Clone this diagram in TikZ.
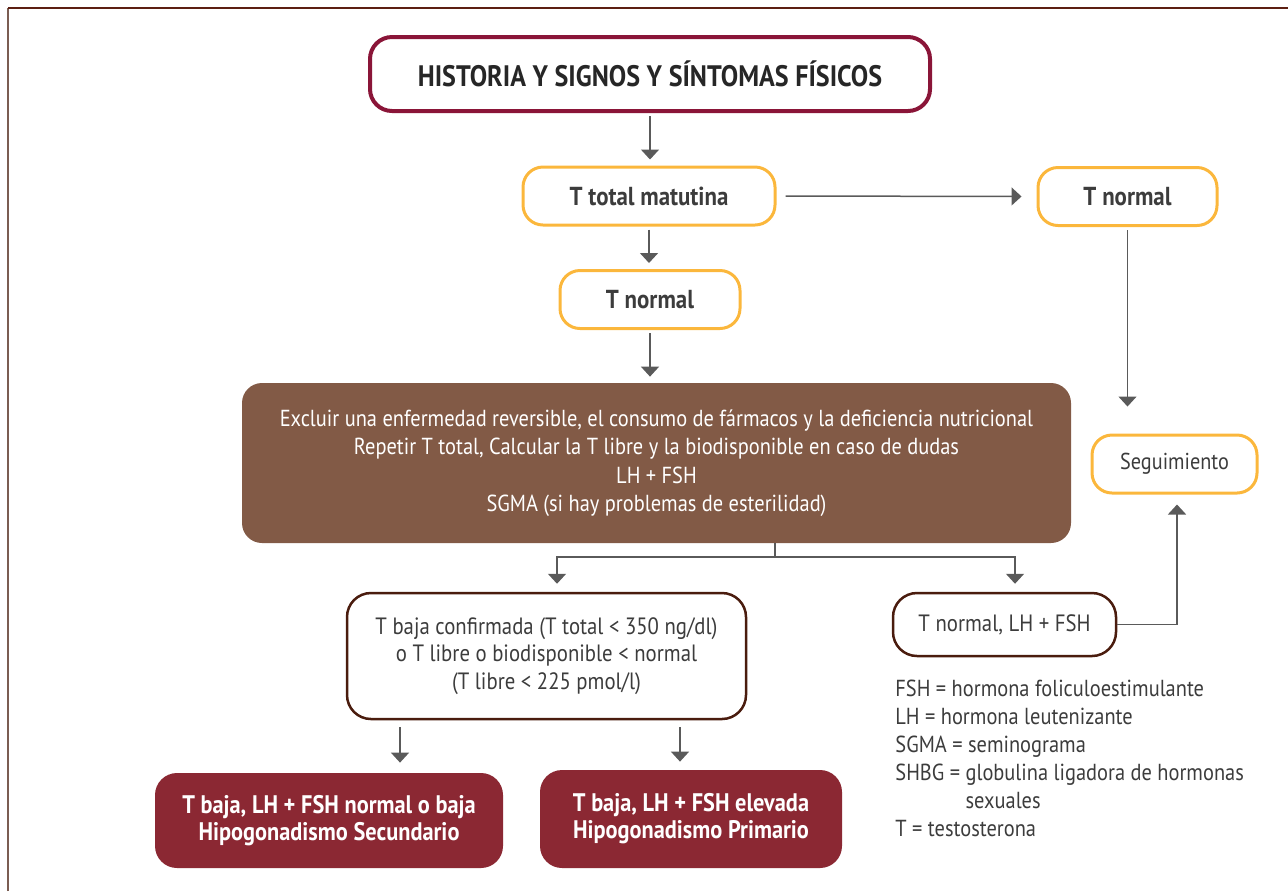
\documentclass[tikz,border=0pt]{standalone}
\usepackage{fontspec}
\setmainfont{PT Sans}[FakeStretch=0.88]
\usetikzlibrary{arrows.meta}
\definecolor{titlered}{HTML}{8A1538}
\definecolor{orangeline}{HTML}{FBB73C}
\definecolor{brownfill}{HTML}{825A46}
\definecolor{darkbrown}{HTML}{4A1C0E}
\definecolor{wine}{HTML}{8B2833}
\definecolor{arrowgray}{HTML}{5A5A5A}
\definecolor{textgray}{HTML}{3C3C3C}
\definecolor{frametop}{HTML}{5C1F12}
\definecolor{frameleft}{HTML}{7B5D52}

\begin{document}
\begin{tikzpicture}
[x=0.5pt,y=-0.5pt,
  titlebox/.style={shape=rectangle,rounded corners=11pt,draw=titlered,line width=2pt,
    minimum width=280pt,minimum height=37pt,text=black!85,
    font=\fontsize{14.8}{17}\selectfont\bfseries},%
  orangebox/.style={shape=rectangle,rounded corners=10pt,draw=orangeline,line width=1.5pt,
    minimum height=29pt,text=textgray,font=\fontsize{13}{16}\selectfont\bfseries},%
  brownbox/.style={shape=rectangle,rounded corners=10pt,fill=brownfill,text=white,
    align=center,font=\fontsize{11.6}{14.25}\selectfont},%
  outlinebox/.style={shape=rectangle,rounded corners=12pt,draw=darkbrown,line width=1.25pt,
    text=textgray,align=center,font=\fontsize{11.8}{13.75}\selectfont},%
  redbox/.style={shape=rectangle,rounded corners=11pt,fill=wine,text=white,
    align=center,font=\fontsize{12.7}{13.5}\selectfont\bfseries},%
  arrowline/.style={-{Triangle[width=9pt,length=5pt]},line width=0.75pt,draw=arrowgray,
    shorten <=1.5pt,shorten >=3pt}]
\useasboundingbox (0,0) rectangle (1288,891);
%% frame
\draw[frameleft,line width=1pt] (8,891) -- (8,8);
\draw[frametop,line width=1pt] (8,8) -- (1288,8);
%% nodes or boxes
\node (title) at (650,74) [titlebox] {HISTORIA Y SIGNOS Y SÍNTOMAS FÍSICOS};
\foreach \nodename/\x/\y/\w/\txt in {tmat/649/196/126/T total matutina,
    tnormA/1127.5/196.5/89.5/T normal, tnormB/650/299.5/90/T normal} {
  \node (\nodename) at (\x,\y) [orangebox,minimum width=\w pt] {\txt};
}
\node (seguim) at (1174.5,464) [orangebox,minimum width=82.5pt,font=\fontsize{11.5}{14}\selectfont] {Seguimiento};
\node (brown) at (656.5,463) [brownbox,minimum width=414.5pt,minimum height=80pt]
  {Excluir una enfermedad reversible, el consumo de fármacos y la deficiencia nutricional\\
   Repetir T total, Calcular la T libre y la biodisponible en caso de dudas\\
   LH + FSH\\
   SGMA (si hay problemas de esterilidad)};
\node (tbaja) at (546.5,656) [outlinebox,minimum width=199.5pt,minimum height=63pt]
  {T baja confirmada (T total < 350 ng/dl)\\
   o T libre o biodisponible < normal\\
   (T libre < 225 pmol/l)};
\node (tnlh) at (1004.5,624.5) [outlinebox,minimum width=111.5pt,minimum height=31.5pt] {T normal, LH + FSH};
\node (sec) at (329,820.5) [redbox,minimum width=174pt,minimum height=47.5pt]
  {T baja, LH + FSH normal o baja\\ Hipogonadismo Secundario};
\node (prim) at (691,819) [redbox,minimum width=151pt,minimum height=49pt]
  {T baja, LH + FSH elevada\\ Hipogonadismo Primario};
%% legend
\node (legend) at (895,758) [anchor=west,align=left,text=textgray,inner sep=0pt,
  font=\fontsize{11.6}{14}\selectfont]
  {FSH = hormona foliculoestimulante\\
   LH = hormona leutenizante\\
   SGMA = seminograma\\
   SHBG = globulina ligadora de hormonas\\
   \hphantom{SHBG = }sexuales\\
   T = testosterona};
%% helper points
\coordinate (split) at (775,557);
\coordinate (jl) at (557,557);
\coordinate (jr) at (1015,557);
\coordinate (sl) at (400,727);
\coordinate (sr) at (680,727);
%% edges or arrows
\foreach \startnode/\endnode in {title/tmat, tmat/tnormB, tnormB/brown} {
  \draw[arrowline] (\startnode.south) -- (\startnode.south |- \endnode.north);
}
\draw[arrowline,shorten <=4.5pt,shorten >=7.5pt] (tmat.east) -- (tnormA.west);
\draw[arrowline,shorten >=13.5pt] (tnormA.south) -- (tnormA.south |- seguim.north);
\draw[line width=0.75pt,draw=arrowgray] (brown.south -| split) -- (split);
\draw[arrowline,shorten <=0pt,shorten >=4pt] (split) -| (jl |- tbaja.north);
\draw[arrowline,shorten <=0pt,shorten >=4pt] (split) -| (jr |- tnlh.north);
\draw[arrowline,shorten <=0pt,shorten >=5pt] (tnlh.east) -| ([xshift=1.25pt]seguim.south);
\draw[arrowline,shorten <=0pt,shorten >=5pt] (sl) -- (sl |- sec.north);
\draw[arrowline,shorten <=0pt,shorten >=4pt] (sr) -- (sr |- prim.north);
\end{tikzpicture}
\end{document}
